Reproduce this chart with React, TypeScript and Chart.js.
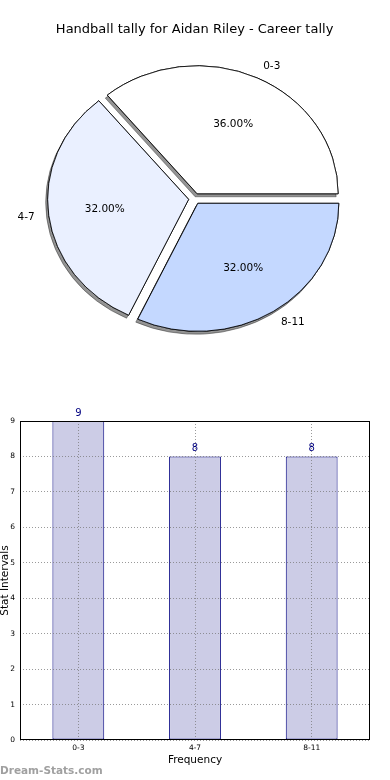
import React, { useEffect, useRef } from 'react';
import { Chart, registerables } from 'chart.js';

Chart.register(...registerables);
Chart.defaults.font.family = "'DejaVu Sans', sans-serif";

// ---------- data ----------
const TITLE = 'Handball tally for Aidan Riley - Career tally';
const categories = ['0-3', '4-7', '8-11'];
const tallies = [9, 8, 8];
const pieColors = ['#ffffff', '#eaf0ff', '#c4d8ff'];
const Y_MIN = 0;
const Y_MAX = 9;
const Y_STEP = 1;
const X_TITLE = 'Frequency';
const Y_TITLE = 'Stat Intervals';
const WATERMARK = 'Dream-Stats.com';

// ---------- style constants ----------
const Y_SCALE = 0.908; // elliptical pie
const EXPLODE = 6;
const PIE_RADIUS = 141;
const GRID_COLOR = 'rgba(120,120,120,0.75)';

const piePlugin = {
  id: 'pieCustom',
  beforeDatasetsDraw(chart: any) {
    const meta = chart.getDatasetMeta(0);
    const arcs = meta.data as any[];
    if (!arcs.length) return false;
    const ctx = chart.ctx as CanvasRenderingContext2D;
    const cx = arcs[0].x;
    const cy = arcs[0].y;
    const pass = (shadow: boolean) => {
      arcs.forEach((arc) => {
        const mid = (arc.startAngle + arc.endAngle) / 2;
        ctx.save();
        ctx.translate(cx, cy);
        ctx.scale(1, Y_SCALE);
        ctx.translate(-cx, -cy);
        ctx.translate(Math.cos(mid) * EXPLODE, Math.sin(mid) * EXPLODE);
        if (shadow) {
          ctx.shadowColor = 'rgba(0,0,0,0.42)';
          ctx.shadowOffsetX = -2;
          ctx.shadowOffsetY = 3;
          ctx.shadowBlur = 0;
        }
        arc.draw(ctx);
        ctx.restore();
      });
    };
    pass(true);
    pass(false);
    return false;
  },
  afterDraw(chart: any) {
    const meta = chart.getDatasetMeta(0);
    const arcs = meta.data as any[];
    const ctx = chart.ctx as CanvasRenderingContext2D;
    const data = chart.data.datasets[0].data as number[];
    const labels = chart.data.labels as string[];
    const total = data.reduce((a, b) => a + b, 0);
    ctx.save();
    ctx.fillStyle = '#000';
    ctx.font = "10.5px 'DejaVu Sans', sans-serif";
    ctx.textBaseline = 'middle';
    arcs.forEach((arc, i) => {
      const mid = (arc.startAngle + arc.endAngle) / 2;
      const c = Math.cos(mid);
      const s = Math.sin(mid);
      const r = arc.outerRadius;
      const pr = 0.6 * r + EXPLODE;
      ctx.textAlign = 'center';
      ctx.fillText(((data[i] / total) * 100).toFixed(2) + '%', arc.x + c * pr, arc.y + s * pr * Y_SCALE);
      const lr = 1.1 * r + EXPLODE;
      ctx.textAlign = c >= 0 ? 'left' : 'right';
      ctx.fillText(labels[i], arc.x + c * lr, arc.y + s * lr * Y_SCALE);
    });
    ctx.restore();
  },
};

function PieChart() {
  const ref = useRef<HTMLCanvasElement>(null);
  useEffect(() => {
    // clockwise from east: 8-11, 4-7, 0-3 (matches counter-clockwise start at east)
    const order = categories.map((_, i) => categories.length - 1 - i);
    const chart = new Chart(ref.current as HTMLCanvasElement, {
      type: 'pie',
      data: {
        labels: order.map((i) => categories[i]),
        datasets: [
          {
            data: order.map((i) => tallies[i]),
            backgroundColor: order.map((i) => pieColors[i]),
            borderColor: '#000',
            borderWidth: 0.9,
            borderJoinStyle: 'miter',
          } as any,
        ],
      },
      options: {
        responsive: false,
        animation: false,
        events: [],
        radius: PIE_RADIUS,
        rotation: 90,
        layout: { padding: { left: 0, right: 0.8, top: 0, bottom: 50.2 } },
        plugins: {
          legend: { display: false },
          tooltip: { enabled: false },
          title: {
            display: true,
            text: TITLE,
            color: '#000',
            font: { size: 13, weight: 'normal' },
            padding: { top: 22, bottom: 10 },
          },
        },
      } as any,
      plugins: [piePlugin],
    });
    return () => chart.destroy();
  }, []);
  return (
    <canvas
      ref={ref}
      width={390}
      height={400}
      style={{ position: 'absolute', left: 0, top: 0, width: 390, height: 400 }}
    />
  );
}

const barPlugin = {
  id: 'barCustom',
  afterDatasetsDraw(chart: any) {
    const meta = chart.getDatasetMeta(0);
    const ctx = chart.ctx as CanvasRenderingContext2D;
    const data = chart.data.datasets[0].data as number[];
    ctx.save();
    ctx.fillStyle = '#000080';
    ctx.font = "10px 'DejaVu Sans', sans-serif";
    ctx.textAlign = 'center';
    ctx.textBaseline = 'bottom';
    meta.data.forEach((bar: any, i: number) => {
      ctx.fillText(String(data[i]), bar.x, bar.y - 3);
    });
    ctx.restore();
  },
  afterDraw(chart: any) {
    const { left, top, right, bottom } = chart.chartArea;
    const ctx = chart.ctx as CanvasRenderingContext2D;
    ctx.save();
    ctx.strokeStyle = '#000';
    ctx.lineWidth = 1;
    const l = Math.round(left) + 0.5;
    const t = Math.round(top) + 0.5;
    const r = Math.round(right) - 0.5;
    const b = Math.round(bottom) - 0.5;
    ctx.strokeRect(l, t, r - l, b - t);
    ctx.restore();
  },
};

function BarChart() {
  const ref = useRef<HTMLCanvasElement>(null);
  useEffect(() => {
    const chart = new Chart(ref.current as HTMLCanvasElement, {
      type: 'bar',
      data: {
        labels: categories,
        datasets: [
          {
            data: tallies,
            backgroundColor: '#cccce6',
            borderColor: '#000080',
            borderWidth: 1,
            borderSkipped: false,
            barPercentage: 0.444,
            categoryPercentage: 1,
          } as any,
        ],
      },
      options: {
        responsive: false,
        animation: false,
        events: [],
        layout: { padding: { top: 41, right: 20, left: 0, bottom: 0 } },
        scales: {
          x: {
            offset: true,
            grid: { offset: false, color: GRID_COLOR, lineWidth: 1, drawTicks: false, z: 1 },
            border: { display: false, dash: [1, 2] },
            ticks: { font: { size: 7.5 }, color: '#000', padding: 4, maxRotation: 0 },
            title: {
              display: true,
              text: X_TITLE,
              color: '#000',
              font: { size: 10.5 },
              padding: { top: 0, bottom: 13.7 },
            },
            afterFit: (s: any) => {
              s.height = 40;
            },
          },
          y: {
            min: Y_MIN,
            max: Y_MAX,
            grid: { color: GRID_COLOR, lineWidth: 1, drawTicks: false, z: 1 },
            border: { display: false, dash: [1, 2] },
            ticks: { stepSize: Y_STEP, font: { size: 7.5 }, color: '#000', padding: 5 },
            title: {
              display: true,
              text: Y_TITLE,
              color: '#000',
              font: { size: 10.5, lineHeight: 1 },
              padding: 0,
            },
            afterFit: (s: any) => {
              s.width = 20;
            },
          },
        },
        plugins: { legend: { display: false }, tooltip: { enabled: false } },
      } as any,
      plugins: [barPlugin],
    });
    return () => chart.destroy();
  }, []);
  return (
    <canvas
      ref={ref}
      width={390}
      height={400}
      style={{ position: 'absolute', left: 0, top: 380, width: 390, height: 400 }}
    />
  );
}

export default function App() {
  return (
    <div
      style={{
        position: 'absolute',
        left: 0,
        top: 0,
        width: 390,
        height: 780,
        background: '#fff',
        overflow: 'hidden',
      }}
    >
      <PieChart />
      <BarChart />
      <div
        style={{
          position: 'absolute',
          left: 0,
          top: 763,
          fontFamily: "'DejaVu Sans', sans-serif",
          fontWeight: 'bold',
          fontSize: 10.5,
          lineHeight: '14px',
          color: '#a0a0a0',
          whiteSpace: 'nowrap',
        }}
      >
        {WATERMARK}
      </div>
    </div>
  );
}
